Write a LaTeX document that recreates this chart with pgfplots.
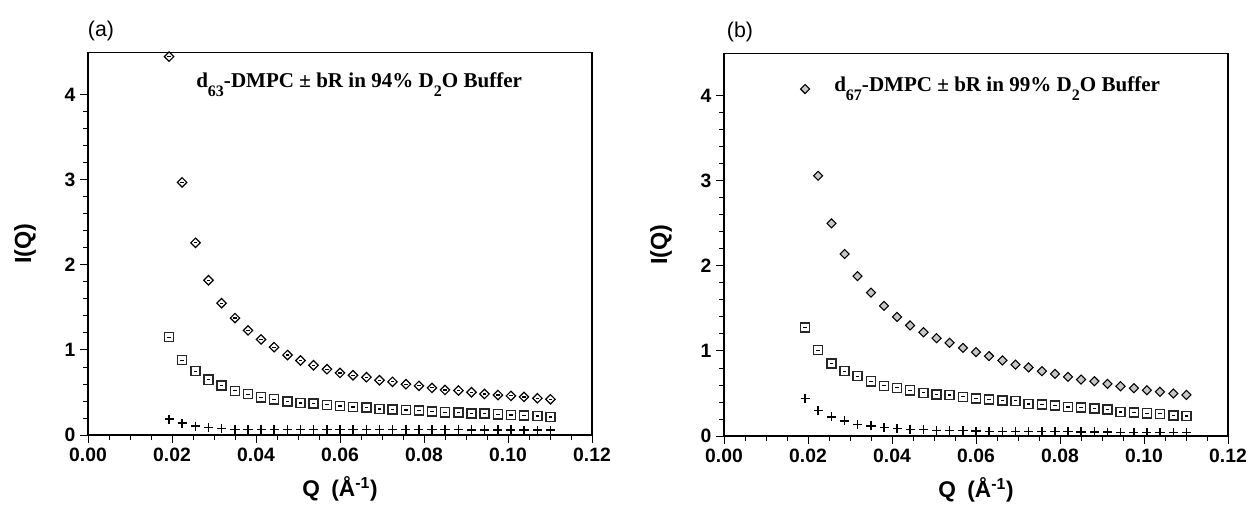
\documentclass[border=0pt]{standalone}
\usepackage{fontspec}
\setmainfont{Liberation Sans}
\newfontfamily\timesfont{Liberation Serif}
\usepackage{pgfplots}
\usepackage{pgfplotstable}
\pgfplotsset{compat=1.18}

\pgfplotstableread{
x dia sq pl
0.0193 4.45 1.15 0.187
0.0224 2.97 0.88 0.140
0.0256 2.26 0.75 0.105
0.0287 1.82 0.65 0.086
0.0318 1.55 0.58 0.074
0.0350 1.375 0.52 0.068
0.0381 1.23 0.48 0.066
0.0412 1.124 0.444 0.065
0.0443 1.033 0.42 0.064
0.0475 0.94 0.393 0.064
0.0506 0.876 0.377 0.063
0.0537 0.82 0.37 0.063
0.0569 0.774 0.354 0.062
0.0600 0.73 0.342 0.062
0.0631 0.703 0.33 0.062
0.0663 0.68 0.322 0.061
0.0694 0.644 0.306 0.061
0.0725 0.625 0.30 0.061
0.0757 0.597 0.295 0.060
0.0788 0.578 0.287 0.060
0.0819 0.554 0.275 0.060
0.0850 0.53 0.267 0.060
0.0882 0.523 0.263 0.060
0.0913 0.503 0.255 0.059
0.0944 0.483 0.251 0.059
0.0976 0.47 0.244 0.059
0.1007 0.46 0.236 0.059
0.1038 0.448 0.228 0.058
0.1070 0.432 0.224 0.058
0.1101 0.42 0.212 0.058
}\dataA

\pgfplotstableread{
x dia sq pl
0.0193 4.08 1.277 0.44
0.0224 3.06 1.01 0.30
0.0256 2.50 0.853 0.224
0.0287 2.14 0.762 0.177
0.0318 1.88 0.703 0.134
0.0350 1.686 0.644 0.118
0.0381 1.53 0.59 0.10
0.0412 1.40 0.566 0.086
0.0443 1.30 0.538 0.079
0.0475 1.22 0.507 0.075
0.0506 1.15 0.49 0.067
0.0537 1.096 0.483 0.064
0.0569 1.037 0.46 0.061
0.0600 0.986 0.44 0.058
0.0631 0.94 0.428 0.056
0.0663 0.888 0.416 0.055
0.0694 0.84 0.413 0.054
0.0725 0.806 0.377 0.052
0.0757 0.762 0.37 0.051
0.0788 0.73 0.36 0.050
0.0819 0.695 0.342 0.049
0.0850 0.664 0.334 0.048
0.0882 0.644 0.322 0.047
0.0913 0.613 0.31 0.046
0.0944 0.585 0.283 0.045
0.0976 0.562 0.275 0.044
0.1007 0.538 0.267 0.043
0.1038 0.52 0.26 0.042
0.1070 0.50 0.24 0.041
0.1101 0.483 0.236 0.040
}\dataB

\pgfplotsset{
  panel/.style={
    scale only axis, width=378pt, height=287pt,
    xmin=0, xmax=0.12, ymin=0, ymax=4.5,
    xtick={0,0.02,0.04,0.06,0.08,0.1,0.12},
    ytick={0,1,2,3,4},
    minor x tick num=3, minor y tick num=4,
    tick align=outside, xtick pos=left, ytick pos=left,
    scaled ticks=false,
    major tick length=6pt, minor tick length=3.5pt,
    axis line style={line width=0.9pt},
    every tick/.style={black, line width=0.7pt},
    ticklabel style={font=\bfseries\fontsize{14.5}{16}\selectfont},
    xticklabel style={/pgf/number format/.cd, fixed, fixed zerofill, precision=2, assume math mode=true},
    yticklabel style={/pgf/number format/assume math mode=true},
    every axis x label/.style={at={(axis description cs:0.5,-0.141)}, anchor=center, font=\bfseries\fontsize{17}{19}\selectfont},
    every axis y label/.style={at={(axis description cs:-0.125,0.5)}, rotate=90, anchor=center, font=\bfseries\fontsize{17.5}{19}\selectfont},
    xlabel={Q\enspace(Å\textsuperscript{-1})},
    ylabel={I(Q)},
  },
  plusmark/.style={only marks, mark=+, mark size=3.4pt, mark options={line width=0.9pt, black}},
  sqmark/.style={only marks, mark=square*, mark size=3.4pt, mark options={fill=white, draw=black!85, line width=1.1pt}},
  dashmark/.style={only marks, mark=-, mark size=1.4pt, mark options={line width=0.9pt, black}},
}

\begin{document}
\begin{tikzpicture}
\useasboundingbox (0,0) rectangle (936pt,379.5pt);

\begin{axis}[panel, at={(66pt,53.25pt)}, anchor=south west]
  \addplot[plusmark] table[x=x, y=pl] {\dataA};
  \addplot[sqmark] table[x=x, y=sq] {\dataA};
  \addplot[dashmark] table[x=x, y=sq] {\dataA};
  \addplot[only marks, mark=square*, mark size=2.5pt, mark options={rotate=45, fill=white, draw=black, line width=0.9pt}] table[x=x, y=dia] {\dataA};
  \addplot[dashmark, mark size=1.4pt] table[x=x, y=dia] {\dataA};
\end{axis}

\begin{axis}[panel, at={(543pt,52.5pt)}, anchor=south west]
  \addplot[plusmark] table[x=x, y=pl] {\dataB};
  \addplot[sqmark] table[x=x, y=sq] {\dataB};
  \addplot[dashmark] table[x=x, y=sq] {\dataB};
  \addplot[only marks, mark=square*, mark size=2.4pt, mark options={rotate=45, fill=gray!45, draw=black, line width=0.8pt}] table[x=x, y=dia] {\dataB};
\end{axis}

\node[anchor=center, font=\fontsize{16}{18}\selectfont] at (75.75pt,356.25pt) {(a)};
\node[anchor=center, font=\fontsize{16}{18}\selectfont] at (555pt,355.5pt) {(b)};

\node[anchor=base west, inner sep=0pt, font=\timesfont\bfseries\fontsize{15.8}{17}\selectfont] at (147pt,313.5pt)
  {d\raisebox{-6.5pt}{\fontsize{12}{12}\selectfont 63}-DMPC ± bR in 94\% D\raisebox{-6.5pt}{\fontsize{12}{12}\selectfont 2}O Buffer};
\node[anchor=base west, inner sep=0pt, font=\timesfont\bfseries\fontsize{15.8}{17}\selectfont] at (625.5pt,310.5pt)
  {d\raisebox{-6.5pt}{\fontsize{12}{12}\selectfont 67}-DMPC ± bR in 99\% D\raisebox{-6.5pt}{\fontsize{12}{12}\selectfont 2}O Buffer};
\end{tikzpicture}
\end{document}
